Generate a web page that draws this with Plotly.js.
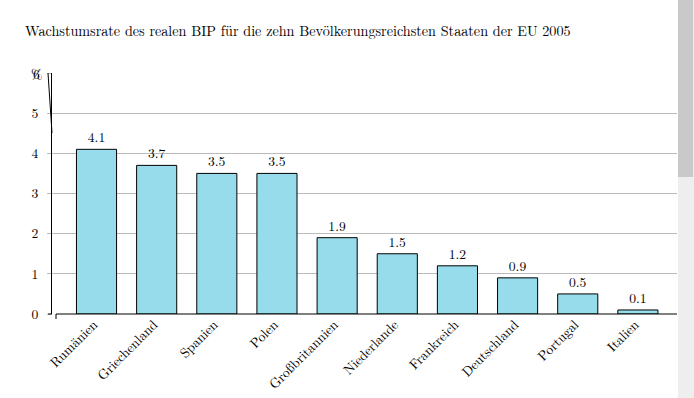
<!DOCTYPE html>
<html><head><meta charset="utf-8">
<script src="https://cdn.plot.ly/plotly-3.0.1.min.js"></script>
<style>html,body{margin:0;padding:0;background:#fff}</style>
</head><body>
<div id="chart" style="width:694px;height:398px"></div>
<script>
const countries = ["Rumänien","Griechenland","Spanien","Polen","Großbritannien","Niederlande","Frankreich","Deutschland","Portugal","Italien"];
const growth = [4.1,3.7,3.5,3.5,1.9,1.5,1.2,0.9,0.5,0.1];
const yTicks = [0,1,2,3,4,5,6];
const titleText = "Wachstumsrate des realen BIP für die zehn Bevölkerungsreichsten Staaten der EU 2005";

const FONT = "Latin Modern Roman";
const FS = 13.6;
const W = 694, H = 398, L = 52, R = 17, T = 73, B = 84;
const pw = W - L - R, ph = H - T - B;
const px = x => (x - L) / pw;
const py = y => (H - B - y) / ph;

const trace = {
  type: 'bar', x: countries, y: growth,
  marker: {color: '#97dcea', line: {color: '#000', width: 1}},
  text: growth.map(v => v.toFixed(1)), textposition: 'outside',
  textfont: {family: FONT, size: FS, color: '#000'},
  cliponaxis: false, hoverinfo: 'none'
};

const layout = {
  width: W, height: H,
  margin: {l: L, r: R, t: T, b: B, pad: 0},
  paper_bgcolor: '#fff', plot_bgcolor: '#fff',
  font: {family: FONT, size: FS, color: '#000'},
  showlegend: false,
  bargap: 1/3,
  title: {text: titleText, x: 25/W, xanchor: 'left', xref: 'container', y: 1 - 31/H, yanchor: 'middle', yref: 'container',
          font: {family: FONT, size: 14.2, color: '#000'}},
  xaxis: {range: [-0.74, 9.65], tickangle: -45, ticks: '', showline: false, showgrid: false, zeroline: false,
          ticklabelshift: -3, ticklabelstandoff: -1,
          tickfont: {family: FONT, size: FS, color: '#000'}, fixedrange: true},
  yaxis: {range: [0, 6], tickvals: yTicks, ticktext: yTicks.map(v => v === 6 ? '' : String(v)),
          showgrid: true, gridcolor: '#bbbbbb', gridwidth: 1, zeroline: false,
          showline: true, linecolor: '#000', linewidth: 1,
          ticks: 'outside', ticklen: 4, tickcolor: '#bbbbbb', ticklabelstandoff: 6,
          tickfont: {family: FONT, size: FS, color: '#000'}, fixedrange: true},
  annotations: [
    {text: '6', xref: 'paper', yref: 'y', x: px(36), y: 6, showarrow: false, xanchor: 'center', yanchor: 'middle',
     font: {family: FONT, size: FS, color: '#000'}},
    {text: '%', xref: 'paper', yref: 'y', x: px(36), y: 6, showarrow: false, xanchor: 'center', yanchor: 'middle',
     font: {family: FONT, size: FS, color: '#000'}}
  ],
  shapes: [
    {type: 'line', xref: 'paper', yref: 'paper', x0: px(56), x1: 1, y0: 0, y1: 0, line: {color: '#000', width: 1}},
    {type: 'line', xref: 'paper', yref: 'paper', x0: px(56), x1: px(56), y0: 0, y1: py(319), line: {color: '#000', width: 1}},
    {type: 'line', xref: 'paper', yref: 'paper', x0: px(48), x1: px(52), y0: 0, y1: 0, line: {color: '#000', width: 1}},
    {type: 'line', xref: 'paper', yref: 'paper', x0: px(48), x1: px(52), y0: 1, y1: py(133), line: {color: '#000', width: 1}},
    {type: 'rect', xref: 'paper', yref: 'paper', x0: px(678), x1: px(694), y0: py(398), y1: py(0), fillcolor: '#eeeeee', line: {width: 0}},
    {type: 'rect', xref: 'paper', yref: 'paper', x0: px(678), x1: px(693), y0: py(177), y1: py(0), fillcolor: '#c9c9c9', line: {width: 0}}
  ]
};

Plotly.newPlot('chart', [trace], layout, {displayModeBar: false, staticPlot: true}).then(() => {
  document.querySelectorAll('#chart text').forEach(t => { t.style.fontFamily = "'Latin Modern Roman', 'Liberation Serif', serif"; });
});
</script>
</body></html>
